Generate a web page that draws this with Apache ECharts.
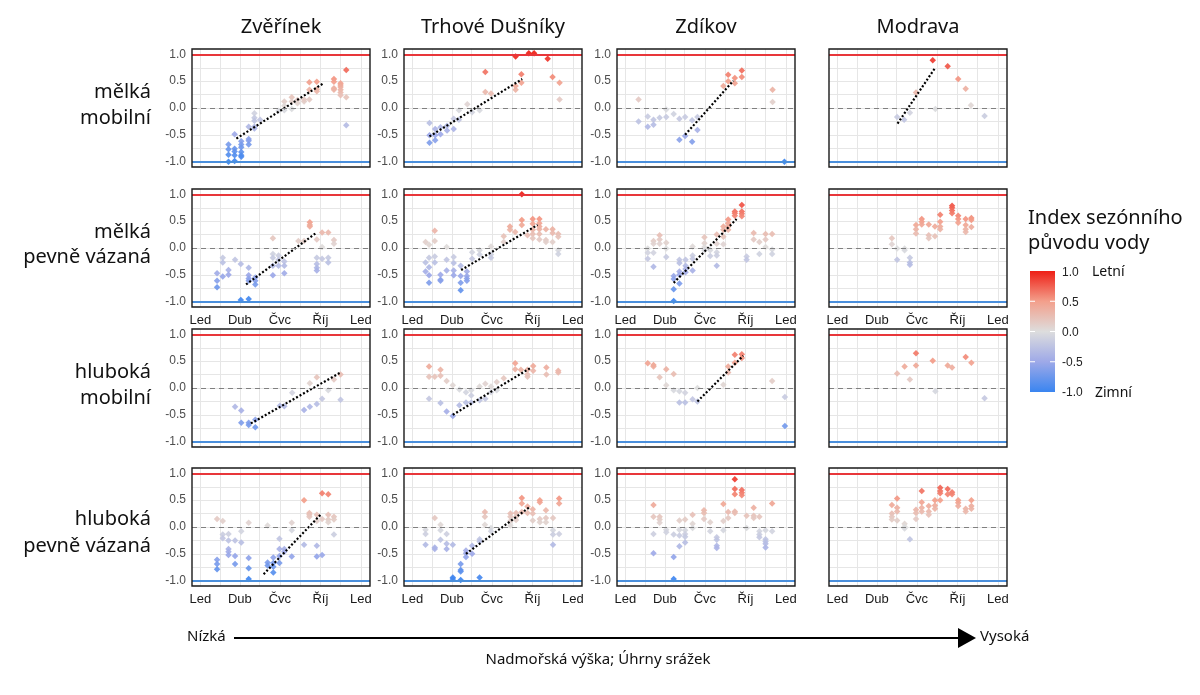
<!DOCTYPE html>
<html>
<head>
    <meta charset="utf-8">
    <title>Index sezónního původu vody</title>
    <script src="https://cdn.jsdelivr.net/npm/echarts@6/dist/echarts.min.js"></script>
    <style>
        html, body { margin: 0; padding: 0; background: #fff; }
        #main { width: 1200px; height: 695px; }
    </style>
</head>
<body>
<div id="main"></div>
<script type="text/javascript">
    // osa x: den v roce
    var months = ['Led', 'Dub', 'Čvc', 'Říj', 'Led'];
    var monthDays = [0, 90, 181, 273, 365];
    var gridDays = [0, 45, 90, 135, 181, 227, 273, 319, 365];
    var yTicks = [-1, -0.5, 0, 0.5, 1];
    var yGrid = [-1, -0.75, -0.5, -0.25, 0, 0.25, 0.5, 0.75, 1];

    var sites = ['Zvěřínek', 'Trhové Dušníky', 'Zdíkov', 'Modrava'];
    var aquifers = [['mělká', 'mobilní'], ['mělká', 'pevně vázaná'], ['hluboká', 'mobilní'], ['hluboká', 'pevně vázaná']];

    // [den, [hodnoty indexu]]
    var zve_mm = [[64,[-0.68,-0.77,-0.87,-1.0]],[78,[-0.49,-0.76,-0.81,-0.88,-0.99]],[93,[-0.62,-0.68,-0.73,-0.82,-0.88,-0.91]],
        [110,[-0.35,-0.58,-0.61,-0.68]],[123,[-0.1,-0.18,-0.24,-0.35,-0.38]],[136,[-0.22]],[178,[-0.05]],[191,[0.12,0.04,-0.04]],
        [208,[0.2,0.12,-0.02]],[221,[0.15,0.09]],[236,[0.12,0.16]],[248,[0.48,0.34,0.16]],[265,[0.49,0.35,0.31]],
        [304,[0.54,0.49,0.37,0.34]],[319,[0.46,0.43,0.39,0.34,0.29,0.24]],[332,[0.71,0.2,-0.32]]];
    var trh_mm = [[39,[-0.28,-0.51,-0.65]],[52,[-0.39,-0.51,-0.6]],[64,[-0.36,-0.49]],[79,[-0.33,-0.42]],[94,[-0.2,-0.39]],
        [106,[-0.04,-0.22]],[125,[0.07]],[136,[-0.08]],[153,[-0.04]],[166,[0.67,0.3]],[179,[0.27]],[235,[0.96,0.41,0.34]],
        [248,[0.63,0.47]],[265,[1.02]],[277,[1.02]],[308,[0.92]],[319,[0.58]],[335,[0.47,0.16]]];
    var zdi_mm = [[30,[0.16,-0.25]],[51,[-0.16,-0.35]],[64,[-0.22,-0.31]],[78,[-0.18]],[93,[-0.03,-0.17]],[110,[-0.11]],
        [123,[-0.2,-0.59]],[136,[-0.17,-0.52]],[152,[-0.23,-0.63]],[164,[-0.17,-0.41]],[223,[0.41]],[234,[0.62,0.5]],
        [249,[0.56,0.46]],[265,[0.7,0.58]],[335,[0.34,0.11]],[362,[-1.0]]];
    var mod_mm = [[136,[-0.17]],[152,[-0.22]],[165,[-0.09]],[179,[0.29]],[217,[0.89]],[223,[-0.02]],[251,[0.78]],
        [275,[0.54]],[292,[0.36]],[304,[0.05]],[335,[-0.15]]];

    var zve_mp = [[38,[-0.47,-0.61,-0.73]],[51,[-0.18,-0.27,-0.53]],[64,[-0.41,-0.5]],[79,[-0.22]],[92,[-0.3,-0.97]],
        [110,[-0.37,-0.51,-0.57,-0.61,-0.95]],[125,[-0.55,-0.61,-0.68]],[165,[0.18,-0.11,-0.18,-0.33,-0.51]],
        [178,[-0.14,-0.22,-0.33]],[191,[-0.25,-0.33,-0.47]],[223,[0.13]],[236,[0.13]],[249,[0.48,0.43,0.4]],
        [265,[0.16,-0.18,-0.3,-0.37,-0.42]],[277,[0.29,0.02,-0.2]],[291,[0.29,-0.18,-0.27]],[304,[0.15,0.08]]];
    var trh_mp = [[30,[0.11,-0.27,-0.44]],[38,[0.06,-0.18,-0.36,-0.51,-0.65]],[51,[0.32,0.13,-0.16,-0.27]],[64,[-0.5,-0.59,-0.61]],
        [78,[0.02,-0.22,-0.42]],[94,[-0.17,-0.28,-0.42,-0.51]],[110,[-0.33,-0.52,-0.65,-0.79]],[124,[-0.44,-0.52,-0.57,-0.61]],
        [136,[-0.08,-0.2]],[153,[-0.04,-0.12]],[179,[0.03,-0.12,-0.18]],[208,[0.22,0.11]],[222,[0.4,0.34]],[234,[0.3]],
        [249,[1.0,0.52,0.43]],[262,[0.24]],[274,[0.54,0.45,0.34,0.26,0.18]],[289,[0.54,0.46,0.4,0.35,0.26,0.16]],
        [304,[0.35,0.15,0.11]],[319,[0.35,0.28,0.11]],[332,[0.26,0.21,-0.04,-0.11]]];
    var zdi_mp = [[51,[-0.01,-0.09,-0.2]],[64,[0.13,0.08,-0.09,-0.35]],[78,[0.24,0.16,0.08]],[93,[0.1,-0.01,-0.17]],
        [110,[-0.52,-0.58,-0.77,-0.99]],[123,[-0.22,-0.28,-0.44,-0.5,-0.66]],[137,[-0.22,-0.33,-0.39,-0.45]],
        [153,[0.03,-0.14,-0.2,-0.42]],[180,[0.2,0.09,0.02,-0.04]],[193,[-0.04,-0.15]],[208,[0.25,0.08,-0.08,-0.14,-0.33]],
        [223,[0.4,0.34,0.21,0.07]],[234,[0.53,0.46,0.4,0.34]],[249,[0.68,0.65,0.6]],[265,[0.8,0.68,0.64,0.59]],
        [276,[-0.16,-0.22]],[292,[0.28,0.16]],[305,[0.11,-0.11]],[319,[0.26,0.16,0.02]],[334,[0.26,-0.03,-0.11]]];
    var mod_mp = [[124,[0.18,0.07]],[136,[-0.01,-0.22]],[153,[-0.01,-0.04]],[165,[-0.18,-0.27,-0.31]],[179,[0.43,0.35,0.27]],
        [192,[0.54,0.49,0.44]],[208,[0.44,0.24,0.18]],[222,[0.4,0.22]],[234,[0.62,0.49,0.4,0.35]],[261,[0.79,0.75,0.7,0.65]],
        [275,[0.6,0.54,0.47]],[292,[0.54,0.43,0.35,0.3]],[305,[0.56,0.52,0.39]]];

    var zve_hm = [[79,[-0.35]],[93,[-0.42,-0.65]],[110,[-0.65,-0.69]],[125,[-0.59,-0.73]],[181,[-0.33]],[191,[-0.34]],
        [209,[-0.09]],[236,[-0.41]],[249,[0.09,-0.35]],[265,[0.2,-0.3]],[277,[-0.2]],[291,[-0.04]],[304,[0.16]],[319,[0.25,-0.22]]];
    var trh_hm = [[38,[0.4,0.21,-0.2]],[51,[0.21]],[64,[0.34,0.23,-0.28]],[78,[0.13,-0.44]],[92,[0.05,-0.52]],[107,[-0.03,-0.32]],
        [122,[-0.08,-0.27]],[134,[-0.04,-0.14,-0.27]],[153,[0.03,-0.23]],[166,[0.08,-0.2]],[179,[0.03,-0.08]],[192,[0.11,-0.04]],
        [208,[0.18]],[234,[0.46,0.35]],[247,[0.34]],[262,[0.34,0.25,0.21]],[275,[0.41,0.32]],[305,[0.38,0.25]],[332,[0.32,0.29]]];
    var zdi_hm = [[51,[0.46]],[64,[0.43,0.4]],[78,[0.2]],[93,[0.35,0.05]],[110,[0.26,-0.04]],[123,[-0.06,-0.27]],[136,[-0.09,-0.27]],
        [153,[-0.21]],[164,[0.0,-0.25]],[223,[0.06]],[234,[0.4,0.29]],[249,[0.62,0.47]],[265,[0.63,0.56]],[334,[0.13]],[363,[-0.17,-0.71]]];
    var mod_hm = [[136,[0.27]],[153,[0.4]],[165,[0.16]],[179,[0.65,0.42]],[217,[0.51]],[223,[-0.06]],[251,[0.42]],[261,[0.38]],
        [292,[0.58]],[305,[0.47]],[335,[-0.19]]];

    var zve_hp = [[38,[0.15,-0.61,-0.69,-0.79]],[51,[0.11,-0.14,-0.21]],[64,[-0.13,-0.25,-0.41,-0.46,-0.52]],[79,[-0.25,-0.54,-0.69]],
        [93,[-0.08,-0.29]],[110,[0.08,-0.58,-0.77,-0.97]],[153,[0.03,-0.66,-0.72]],[166,[-0.57,-0.67,-0.74,-0.85]],
        [180,[-0.22,-0.41,-0.54,-0.67]],[191,[-0.41,-0.46]],[208,[0.08,-0.06,-0.55]],[236,[0.5,-0.33]],[248,[0.26,0.23,0.19]],
        [265,[0.23,0.11,-0.35,-0.55]],[277,[0.63,0.15,-0.52]],[291,[0.61,0.23,0.14,0.09]],[304,[0.19,0.14,-0.14]]];
    var trh_hp = [[30,[-0.05,-0.13,-0.33]],[51,[0.17,-0.38,-0.41]],[64,[0.04,-0.06,-0.24]],[78,[-0.13,-0.31,-0.41]],
        [92,[-0.33,-0.94,-0.97]],[110,[-0.69,-0.8,-0.83,-0.99]],[122,[-0.44,-0.49,-0.56]],[136,[-0.35,-0.5]],
        [153,[-0.23,-0.27,-0.94]],[165,[0.28,0.19,0.04]],[179,[-0.02,-0.08]],[223,[0.25,0.19,0.11,0.03]],[236,[0.26,0.19,0.13]],
        [249,[0.54,0.44,0.28]],[262,[0.38,0.26]],[274,[0.33,0.25,0.12]],[290,[0.5,0.46,0.15,0.09]],[304,[0.31,0.17,0.09]],
        [320,[0.17,-0.06,-0.14,-0.33]],[334,[0.53,0.44,-0.13]]];
    var zdi_hp = [[64,[0.41,0.19,-0.13,-0.49]],[78,[0.19,0.14,0.08]],[93,[-0.05,-0.1]],[110,[-0.14,-0.56,-0.97]],
        [123,[0.12,-0.05,-0.16,-0.36]],[136,[0.14,-0.06,-0.13,-0.18,-0.29]],[153,[0.23,0.06,-0.02]],[179,[0.31,0.26,0.15]],
        [193,[0.09,-0.08]],[208,[-0.19,-0.24,-0.35,-0.39]],[223,[0.43,0.11,-0.06]],[234,[0.28,0.17]],
        [249,[0.89,0.71,0.61,0.29,0.26]],[265,[0.69,0.64,0.59]],[276,[0.21,-0.02]],[292,[0.36,0.21,0.17]],
        [305,[0.19,-0.08,-0.14,-0.19]],[319,[-0.06,-0.23,-0.27,-0.31,-0.38]],[334,[0.44,-0.08]]];
    var mod_hp = [[124,[0.41,0.25,0.19,0.14]],[136,[0.53,0.36,0.29,0.12]],[153,[0.06,0.01,-0.03]],[165,[-0.23]],
        [179,[0.32,0.26,0.15]],[192,[0.67,0.46,0.36,0.29]],[208,[0.39,0.29,0.23]],[222,[0.5,0.4,0.34]],[234,[0.73,0.67,0.63,0.5]],
        [251,[0.71,0.61]],[261,[0.65,0.61]],[275,[0.5,0.45,0.39]],[292,[0.34,0.29]],[305,[0.5,0.39,0.34]]];

    // trendy (dva body), null = bez trendu
    var trendsMm = [[[82,-0.57],[280,0.46]], [[39,-0.53],[250,0.54]], [[136,-0.5],[246,0.51]], [[137,-0.29],[221,0.73]]];
    var trendsMp = [[[104,-0.68],[265,0.29]], [[111,-0.41],[285,0.43]], [[110,-0.65],[253,0.54]], null];
    var trendsHm = [[[115,-0.66],[317,0.28]], [[92,-0.5],[268,0.37]], [[164,-0.25],[268,0.6]], null];
    var trendsHp = [[[144,-0.88],[276,0.25]], [[122,-0.5],[265,0.36]], null, null];

    var panels = [
        [zve_mm, trh_mm, zdi_mm, mod_mm],
        [zve_mp, trh_mp, zdi_mp, mod_mp],
        [zve_hm, trh_hm, zdi_hm, mod_hm],
        [zve_hp, trh_hp, zdi_hp, mod_hp]
    ];
    var trends = [trendsMm, trendsMp, trendsHm, trendsHp];

    var colLeft = [192, 404, 617, 829];
    var rowTop = [49, 189, 329, 468];
    var panelW = 178, panelH = 118;
    var scaleColors = ['#3a85f0', '#9ea9e8', '#dddddd', '#f39f8b', '#ee1f16'];

    function flatten(rows) {
        var out = [];
        rows.forEach(function (r) {
            r[1].forEach(function (v) { out.push([r[0], v]); });
        });
        return out;
    }

    var grids = [], xAxes = [], yAxes = [], series = [], scatterIdx = [];
    var graphics = [];
    for (var r = 0; r < 4; r++) {
        for (var c = 0; c < 4; c++) {
            var k = r * 4 + c;
            grids.push({
                left: colLeft[c], top: rowTop[r], width: panelW, height: panelH,
                show: true, borderWidth: 0, backgroundColor: '#fff'
            });
            // ramecek panelu nad mrizkou
            graphics.push({
                type: 'rect', z: 100, silent: true,
                shape: { x: colLeft[c], y: rowTop[r], width: panelW, height: panelH },
                style: { fill: 'none', stroke: '#1a1a1a', lineWidth: 1.4 }
            });
            xAxes.push({
                type: 'value', gridIndex: k, min: -19, max: 386,
                axisLine: { show: false },
                axisTick: { show: false, customValues: gridDays },
                splitLine: { show: true, lineStyle: { color: '#e6e6e6', width: 1 } },
                axisLabel: {
                    show: r === 1 || r === 3,
                    customValues: monthDays,
                    formatter: function (v) { return months[monthDays.indexOf(v)]; },
                    color: '#1a1a1a', fontSize: 13, margin: 7, fontFamily: 'Liberation Sans'
                }
            });
            yAxes.push({
                type: 'value', gridIndex: k, min: -1.1, max: 1.1,
                axisLine: { show: false },
                axisTick: { show: false, customValues: yGrid },
                splitLine: { show: true, lineStyle: { color: '#e6e6e6', width: 1 } },
                axisLabel: {
                    show: c < 3,
                    customValues: yTicks,
                    formatter: function (v) { return v.toFixed(1); },
                    color: '#4d4d4d', fontSize: 12, margin: 6, fontFamily: 'Liberation Sans'
                }
            });
            // referencni linie
            series.push({
                type: 'line', xAxisIndex: k, yAxisIndex: k, data: [], silent: true, z: 2,
                markLine: {
                    silent: true, symbol: ['none', 'none'], label: { show: false },
                    data: [
                        { yAxis: 1, lineStyle: { color: '#e8363a', width: 2, type: 'solid' } },
                        { yAxis: -1, lineStyle: { color: '#4a8fdc', width: 2, type: 'solid' } },
                        { yAxis: 0, lineStyle: { color: '#808080', width: 1.2, type: [5, 4] } }
                    ]
                }
            });
            scatterIdx.push(series.length);
            series.push({
                type: 'scatter', xAxisIndex: k, yAxisIndex: k, z: 3,
                symbol: 'diamond', symbolSize: 6.5,
                itemStyle: { opacity: 0.92 },
                data: flatten(panels[r][c])
            });
            if (trends[r][c]) {
                series.push({
                    type: 'line', xAxisIndex: k, yAxisIndex: k, z: 4, silent: true,
                    symbol: 'none', data: trends[r][c],
                    lineStyle: { color: '#000', width: 2.2, type: [2, 2] }
                });
            }
        }
    }

    var txtFont = '"Noto Sans", sans-serif';
    sites.forEach(function (s, c) {
        graphics.push({
            type: 'text', x: colLeft[c] + panelW / 2, y: 27,
            style: { text: s, fill: '#111', font: '20px ' + txtFont, textAlign: 'center', textVerticalAlign: 'middle' }
        });
    });
    var rowLabelY = [[92, 118], [232, 257], [372, 398], [519, 546]];
    aquifers.forEach(function (a, r) {
        a.forEach(function (t, i) {
            graphics.push({
                type: 'text', x: 151, y: rowLabelY[r][i],
                style: { text: t, fill: '#111', font: '20px ' + txtFont, textAlign: 'right', textVerticalAlign: 'middle' }
            });
        });
    });
    // legenda
    graphics.push({
        type: 'text', x: 1028, y: 218,
        style: { text: 'Index sezónního', fill: '#111', font: '20px ' + txtFont, textAlign: 'left', textVerticalAlign: 'middle' }
    });
    graphics.push({
        type: 'text', x: 1028, y: 243,
        style: { text: 'původu vody', fill: '#111', font: '20px ' + txtFont, textAlign: 'left', textVerticalAlign: 'middle' }
    });
    graphics.push({
        type: 'rect', shape: { x: 1030, y: 271, width: 25, height: 121 },
        style: {
            fill: new echarts.graphic.LinearGradient(0, 0, 0, 1, scaleColors.slice().reverse().map(function (col, i) {
                return { offset: i / 4, color: col };
            }))
        }
    });
    var legendTicks = ['1.0', '0.5', '0.0', '-0.5', '-1.0'];
    legendTicks.forEach(function (t, i) {
        var y = 273 + i * 30;
        graphics.push({
            type: 'text', x: 1062, y: y,
            style: { text: t, fill: '#222', font: '12px "Liberation Sans"', textAlign: 'left', textVerticalAlign: 'middle' }
        });
        if (i > 0 && i < 4) {
            graphics.push({ type: 'line', shape: { x1: 1030, y1: 271 + i * 30.25, x2: 1035, y2: 271 + i * 30.25 }, style: { stroke: '#fff', lineWidth: 1 } });
            graphics.push({ type: 'line', shape: { x1: 1050, y1: 271 + i * 30.25, x2: 1055, y2: 271 + i * 30.25 }, style: { stroke: '#fff', lineWidth: 1 } });
        }
    });
    graphics.push({
        type: 'text', x: 1092, y: 272,
        style: { text: 'Letní', fill: '#111', font: '14px ' + txtFont, textAlign: 'left', textVerticalAlign: 'middle' }
    });
    graphics.push({
        type: 'text', x: 1095, y: 393,
        style: { text: 'Zimní', fill: '#111', font: '14px ' + txtFont, textAlign: 'left', textVerticalAlign: 'middle' }
    });
    // sipka dole
    graphics.push({ type: 'line', shape: { x1: 234, y1: 638, x2: 962, y2: 638 }, style: { stroke: '#000', lineWidth: 2 } });
    graphics.push({ type: 'polygon', shape: { points: [[958, 628], [976, 638], [958, 648]] }, style: { fill: '#000' } });
    graphics.push({
        type: 'text', x: 187, y: 637,
        style: { text: 'Nízká', fill: '#111', font: '15px ' + txtFont, textAlign: 'left', textVerticalAlign: 'middle' }
    });
    graphics.push({
        type: 'text', x: 980, y: 637,
        style: { text: 'Vysoká', fill: '#111', font: '15px ' + txtFont, textAlign: 'left', textVerticalAlign: 'middle' }
    });
    graphics.push({
        type: 'text', x: 598, y: 660,
        style: { text: 'Nadmořská výška; Úhrny srážek', fill: '#111', font: '15px ' + txtFont, textAlign: 'center', textVerticalAlign: 'middle' }
    });

    var myChart = echarts.init(document.getElementById('main'));
    myChart.setOption({
        backgroundColor: '#fff',
        animation: false,
        grid: grids,
        xAxis: xAxes,
        yAxis: yAxes,
        visualMap: {
            type: 'continuous', show: false, min: -1, max: 1, dimension: 1,
            seriesIndex: scatterIdx,
            inRange: { color: scaleColors }
        },
        graphic: graphics,
        series: series
    });
</script>
</body>
</html>
